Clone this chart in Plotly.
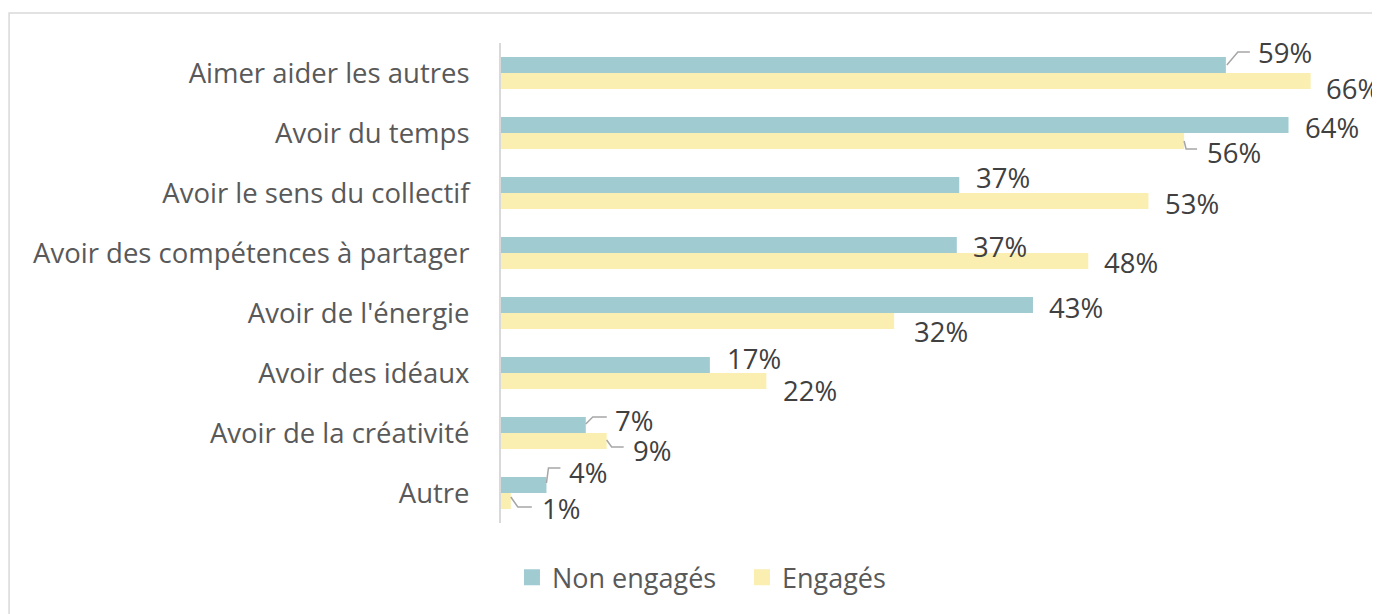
import plotly.graph_objects as go

categories = ["Aimer aider les autres", "Avoir du temps", "Avoir le sens du collectif",
              "Avoir des compétences à partager", "Avoir de l'énergie", "Avoir des idéaux",
              "Avoir de la créativité", "Autre"]
series_names = ["Non engagés", "Engagés"]
non_engages = [59.0, 64.1, 37.3, 37.1, 43.3, 17.0, 6.9, 3.7]
engages = [65.9, 55.6, 52.7, 47.8, 32.0, 21.6, 8.6, 0.8]

colors = ["#9FCBD1", "#FAEEB0"]
LABEL_COLOR = "#404040"
CAT_COLOR = "#595959"
LEADER = "#A6A6A6"
FONT = "Open Sans"

# label offsets (px): (xshift from bar end, yshift from category centre, positive = up)
label_offsets = {
    0: [(30, 21), (14, 6), (15, 16), (14, 7), (14, 6), (15, 15), (27, 13), (21, 21)],
    1: [(13, -15), (21, -19), (15, -10), (14, -9), (18, -18), (15, -17), (24, -17), (29, -15)],
}
# leader lines: series -> category index -> list of (dx, dy) pixel points (dy positive = up)
leaders = {
    0: {0: [(1, 8), (12, 21), (24, 21)],
        6: [(0, 9), (7, 16), (21, 16)],
        7: [(0, 10), (2, 25), (14, 25)]},
    1: {1: [(0, -8), (2, -16), (13, -16)],
        6: [(0, -7), (5, -14), (17, -14)],
        7: [(0, -4), (7, -14), (21, -14)]},
}

fig = go.Figure()
for name, vals, col in zip(series_names, [non_engages, engages], colors):
    fig.add_trace(go.Bar(
        y=categories, x=vals, name=name, orientation="h",
        marker=dict(color=col, line=dict(width=0)),
        hoverinfo="x+y", showlegend=False, legendgroup=name,
    ))
# legend entries with larger square swatches
for name, col in zip(series_names, colors):
    fig.add_trace(go.Scatter(
        x=[None], y=[None], mode="markers", name=name, legendgroup=name,
        marker=dict(symbol="square", size=16, color=col), showlegend=True,
    ))

annotations = []
shapes = []
for s, vals in enumerate([non_engages, engages]):
    for i, v in enumerate(vals):
        dx, dy = label_offsets[s][i]
        annotations.append(dict(
            x=v, y=categories[i], xref="x", yref="y",
            text=f"{round(v):.0f}%", showarrow=False,
            xanchor="left", yanchor="middle", xshift=dx, yshift=dy,
            font=dict(family=FONT, size=27.5, color=LABEL_COLOR),
        ))
    for i, pts in leaders[s].items():
        path = "M" + " L".join(f"{px},{py}" for px, py in pts)
        shapes.append(dict(
            type="path", xref="x", yref="y",
            xsizemode="pixel", ysizemode="pixel",
            xanchor=vals[i], yanchor=i, path=path,
            line=dict(color=LEADER, width=1.5),
        ))

# outer chart border
shapes.append(dict(type="rect", xref="paper", yref="paper",
                   x0=-0.572, x1=1.05, y0=-0.25, y1=1.0625,
                   line=dict(color="#D9D9D9", width=1.5), layer="below"))

fig.update_layout(
    width=1380, height=614,
    margin=dict(l=493, r=27, t=35, b=99),
    paper_bgcolor="white", plot_bgcolor="white",
    barmode="group", bargap=0.4667, bargroupgap=0,
    font=dict(family=FONT, color=CAT_COLOR),
    xaxis=dict(range=[0, 70], autorange=False, showticklabels=False, showgrid=False,
               zeroline=False, showline=False, fixedrange=True),
    yaxis=dict(range=[len(categories) - 0.5, -0.5], autorange=False,
               showgrid=False, zeroline=False,
               showline=True, linecolor="#D9D9D9", linewidth=2,
               ticks="", ticklabelstandoff=24,
               tickfont=dict(family=FONT, size=27.5, color=CAT_COLOR)),
    legend=dict(orientation="h", xref="container", yref="container",
                x=0.3652, y=0.072, xanchor="left", yanchor="middle",
                entrywidth=185, entrywidthmode="pixels",
                font=dict(family=FONT, size=27, color=CAT_COLOR),
                traceorder="normal"),
    annotations=annotations,
    shapes=shapes,
    showlegend=True,
)

fig.write_html("out.html")
